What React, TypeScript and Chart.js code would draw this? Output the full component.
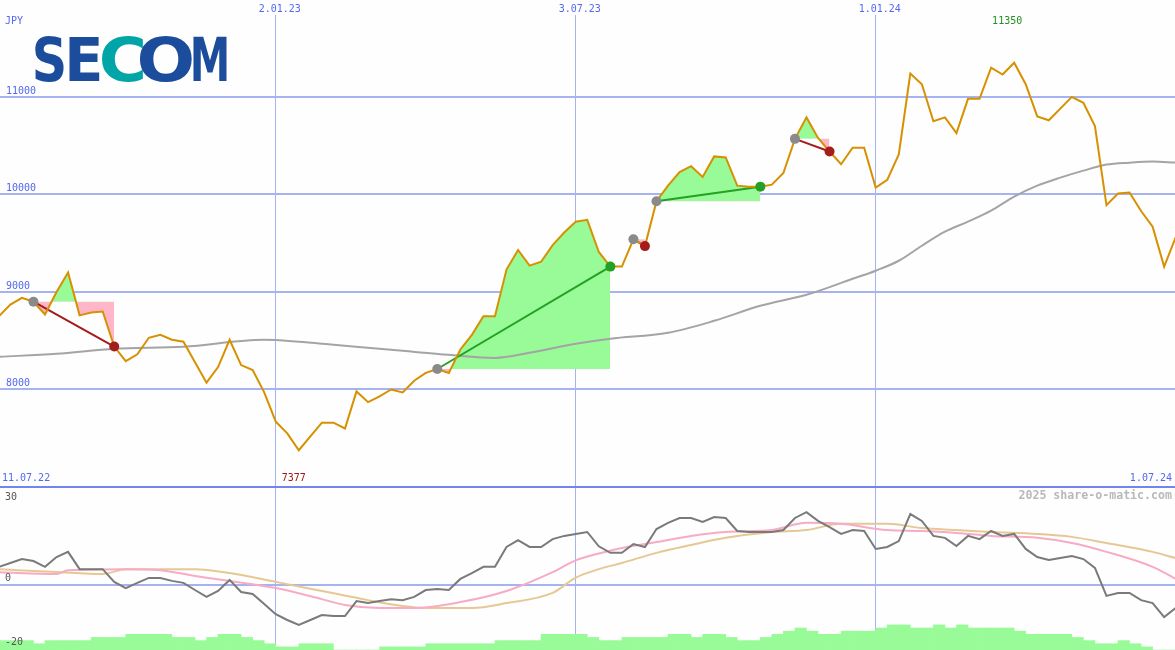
import React, { useEffect, useRef } from 'react';
import { Chart, registerables } from 'chart.js';

Chart.register(...registerables);

// ---------- data ----------
const currencyLabel = 'JPY';
const gridWeeks = [24, 50, 76];
const gridDateLabels = ['2.01.23', '3.07.23', '1.01.24'];
const rangeLabels = ['11.07.22', '1.07.24'];
const priceTicks = [8000, 9000, 10000, 11000];
const oscTicks = [30, 0, -20];
const brandLetters = ['S', 'E', 'C', 'O', 'M'];
const watermark = '2025 share-o-matic.com';

// weekly close, week 0 .. 102
const priceClose = [
  8750, 8870, 8940, 8900, 8770, 9000, 9200, 8760, 8790, 8800,
  8440, 8290, 8360, 8530, 8560, 8510, 8490, 8280, 8070, 8230,
  8510, 8250, 8200, 7970, 7670, 7550, 7377, 7520, 7660, 7660,
  7600, 7980, 7870, 7930, 8000, 7970, 8090, 8170, 8210, 8170,
  8410, 8560, 8750, 8750, 9230, 9430, 9270, 9310, 9480, 9610,
  9720, 9740, 9410, 9260, 9260, 9540, 9470, 9930, 10090, 10230,
  10290, 10180, 10390, 10380, 10090, 10080, 10080, 10100, 10220, 10570,
  10790, 10580, 10440, 10310, 10480, 10480, 10070, 10150, 10410, 11240,
  11130, 10750, 10790, 10630, 10980, 10980, 11300, 11230, 11350, 11130,
  10800, 10760, 10880, 11000, 10940, 10700, 9890, 10010, 10020, 9830,
  9670, 9260, 9560,
];

// moving average (read at these weeks)
const smaWeeks = [0, 5, 10, 16, 23, 26, 29, 35, 39, 43, 46, 50, 53, 58, 62, 66, 70, 74, 76, 78, 80, 82, 84, 86, 88, 90, 92, 94, 96, 98, 100, 102];
const smaValues = [8335, 8366, 8417, 8437, 8509, 8489, 8458, 8396, 8355, 8324, 8376, 8468, 8520, 8581, 8704, 8858, 8971, 9135, 9218, 9320, 9474, 9618, 9721, 9834, 9977, 10090, 10172, 10244, 10306, 10326, 10337, 10326];

// trades (entry / exit week)
const tradeEntryWeek = [3, 38, 55, 57, 69];
const tradeExitWeek = [10, 53, 56, 66, 72];

// lower panel oscillator, week 0 .. 102
const oscValues = [
  5.5, 6.7, 7.9, 7.3, 5.5, 8.5, 10.1, 4.8, 4.8, 4.8,
  0.9, -1.0, 0.6, 2.1, 2.1, 1.2, 0.6, -1.6, -3.7, -1.9,
  1.5, -2.2, -2.8, -5.9, -9.0, -10.8, -12.3, -10.8, -9.3, -9.6,
  -9.6, -5.0, -5.6, -5.0, -4.4, -4.7, -3.7, -1.6, -1.3, -1.6,
  1.8, 3.6, 5.5, 5.5, 11.6, 13.7, 11.6, 11.6, 14.0, 15.0,
  15.6, 16.2, 11.8, 9.8, 9.8, 12.5, 11.6, 17.1, 19.0, 20.5,
  20.5, 19.3, 20.8, 20.5, 16.5, 16.2, 16.2, 16.2, 16.8, 20.5,
  22.3, 19.6, 17.7, 15.6, 16.8, 16.5, 11.0, 11.6, 13.4, 21.7,
  19.6, 15.0, 14.4, 11.9, 15.0, 14.0, 16.5, 15.0, 15.6, 11.0,
  8.5, 7.6, 8.2, 8.8, 7.9, 5.2, -3.4, -2.5, -2.5, -4.7,
  -5.6, -9.9, -7.1,
];

const pinkWeeks = [0, 5, 6, 11, 14, 17, 20, 24, 28, 30, 33, 36, 40, 44, 48, 50, 52, 54, 57, 60, 63, 67, 70, 73, 77, 80, 83, 86, 90, 93, 96, 100, 102];
const pinkValues = [3.9, 3.3, 4.5, 4.8, 4.5, 2.7, 1.2, -1.0, -4.4, -6.2, -7.1, -7.1, -5.3, -1.9, 3.9, 7.5, 9.6, 11.3, 13.1, 15.0, 16.2, 16.8, 19.0, 18.7, 16.8, 16.5, 15.9, 15.0, 14.4, 12.8, 10.1, 5.5, 1.8];

const tanWeeks = [0, 5, 9, 11, 17, 20, 24, 28, 32, 35, 37, 41, 44, 48, 50, 52, 54, 57, 60, 63, 67, 70, 73, 77, 80, 83, 86, 90, 93, 96, 100, 102];
const tanValues = [4.8, 3.9, 3.3, 4.8, 4.8, 3.6, 0.9, -1.9, -4.7, -6.5, -7.1, -7.1, -5.6, -2.5, 2.2, 4.8, 6.7, 9.8, 12.2, 14.4, 16.2, 16.8, 18.7, 18.7, 17.4, 16.8, 16.2, 15.6, 14.7, 12.8, 10.1, 8.2];

// weekly volume level bars (week j covers j..j+1)
const volLevel = [
  3, 3, 3, 2, 3, 3, 3, 3, 4, 4,
  4, 5, 5, 5, 5, 4, 4, 3, 4, 5,
  5, 4, 3, 2, 1, 1, 2, 2, 2, 0,
  0, 0, 0, 1, 1, 1, 1, 2, 2, 2,
  2, 2, 2, 3, 3, 3, 3, 5, 5, 5,
  5, 4, 3, 3, 4, 4, 4, 4, 5, 5,
  4, 5, 5, 4, 3, 3, 4, 5, 6, 7,
  6, 5, 5, 6, 6, 6, 7, 8, 8, 7,
  7, 8, 7, 8, 7, 7, 7, 7, 6, 5,
  5, 5, 5, 4, 3, 2, 2, 3, 2, 1,
  0, 0,
];

// ---------- styles ----------
const W = 1175;
const TOP_H = 487;
const BOT_H = 163;
const BG = '#fdfefd';
const GRID = '#a5b3f2';
const SEP = '#7384ea';
const LABEL_BLUE = '#5468ee';
const PRICE_COLOR = '#d79000';
const SMA_COLOR = '#a4a4a4';
const GREEN_FILL = '#98fb98';
const PINK_FILL = '#ffb6c8';
const WIN_LINE = '#24a024';
const LOSS_LINE = '#a51c1c';
const ENTRY_DOT = '#8a8a8a';
const MONO = '"DejaVu Sans Mono", monospace';

const xMin = 0.1;
const xMax = 101.94;

function xScale(position: 'top' | 'bottom', height: number) {
  return {
    type: 'linear',
    position,
    min: xMin,
    max: xMax,
    offset: false,
    afterBuildTicks: (s: any) => {
      s.ticks = gridWeeks.map((v) => ({ value: v }));
    },
    afterFit: (s: any) => {
      s.height = height;
    },
    ticks: { display: false },
    grid: { color: GRID, lineWidth: 1, drawTicks: false, offset: false },
    border: { display: false },
  };
}

function yScale(min: number, max: number, ticks: number[]) {
  return {
    type: 'linear',
    position: 'left',
    min,
    max,
    afterBuildTicks: (s: any) => {
      s.ticks = ticks.map((v) => ({ value: v }));
    },
    afterFit: (s: any) => {
      s.width = 0;
    },
    ticks: { display: false },
    grid: { color: GRID, lineWidth: 2, drawTicks: false },
    border: { display: false },
  };
}

const topTextPlugin = {
  id: 'topText',
  afterDraw(chart: any) {
    const { ctx, scales } = chart;
    const x = scales.x;
    const y = scales.y;
    ctx.save();
    // separator
    ctx.fillStyle = SEP;
    ctx.fillRect(0, TOP_H - 1, W, 1);

    ctx.font = `10px ${MONO}`;
    ctx.textBaseline = 'middle';
    ctx.fillStyle = LABEL_BLUE;
    ctx.textAlign = 'left';
    ctx.fillText(currencyLabel, 5, 21);
    priceTicks.forEach((v) => {
      ctx.fillText(String(v), 6, y.getPixelForValue(v) - 6);
    });
    ctx.textAlign = 'center';
    gridWeeks.forEach((w, i) => {
      ctx.fillText(gridDateLabels[i], x.getPixelForValue(w) + 4, 9);
    });
    ctx.textAlign = 'left';
    ctx.fillText(rangeLabels[0], 2, 478);
    ctx.textAlign = 'right';
    ctx.fillText(rangeLabels[1], W - 3, 478);

    // min / max labels
    let minI = 0;
    let maxI = 0;
    priceClose.forEach((v, i) => {
      if (v < priceClose[minI]) minI = i;
      if (v > priceClose[maxI]) maxI = i;
    });
    ctx.textAlign = 'center';
    ctx.fillStyle = '#a01818';
    ctx.fillText(String(priceClose[minI]), x.getPixelForValue(minI) - 5, 478);
    ctx.fillStyle = '#229022';
    ctx.fillText(String(priceClose[maxI]), x.getPixelForValue(maxI) - 7, 21);

    // brand logo
    const boxes = [
      [35, 29],
      [69, 31],
      [102, 41],
      [140, 52],
      [193, 34],
    ];
    ctx.font = `bold 61px "DejaVu Sans", sans-serif`;
    ctx.textAlign = 'left';
    ctx.textBaseline = 'alphabetic';
    brandLetters.forEach((ch, i) => {
      const m = ctx.measureText(ch);
      const left = m.actualBoundingBoxLeft || 0;
      const gw = (m.actualBoundingBoxRight || m.width) + left;
      const sx = boxes[i][1] / gw;
      ctx.save();
      ctx.translate(boxes[i][0], 0);
      ctx.scale(sx, 1);
      ctx.fillStyle = ch === 'C' ? '#00a5a8' : '#1c4c9c';
      ctx.fillText(ch, left, 81);
      ctx.restore();
    });
    ctx.restore();
  },
};

const bottomTextPlugin = {
  id: 'bottomText',
  afterDraw(chart: any) {
    const { ctx, scales, chartArea } = chart;
    const y = scales.y;
    ctx.save();
    ctx.fillStyle = SEP;
    ctx.fillRect(0, 0, W, 1);
    ctx.font = `10px ${MONO}`;
    ctx.textBaseline = 'middle';
    ctx.textAlign = 'left';
    ctx.fillStyle = '#555555';
    oscTicks.forEach((v) => {
      let py = y.getPixelForValue(v) - 6;
      py = Math.max(chartArea.top + 10, Math.min(chartArea.bottom - 8, py));
      ctx.fillText(String(v), 5, py);
    });
    ctx.font = `bold 11.6px ${MONO}`;
    ctx.textAlign = 'right';
    ctx.fillStyle = '#b9b9b9';
    ctx.fillText(watermark, W - 3, 9);
    ctx.restore();
  },
};

const baseOptions = {
  animation: false,
  responsive: false,
  devicePixelRatio: 1,
  events: [],
  layout: { padding: 0, autoPadding: false },
  plugins: { legend: { display: false }, tooltip: { enabled: false } },
};

function buildTop(): any {
  const priceData = priceClose.map((v, k) => ({ x: k, y: v }));
  const datasets: any[] = [];
  datasets.push({
    label: 'price',
    data: priceData,
    borderColor: PRICE_COLOR,
    borderWidth: 2,
    pointRadius: 0,
    tension: 0,
    fill: false,
    order: 1,
  });
  datasets.push({
    label: 'sma',
    data: smaWeeks.map((w, i) => ({ x: w, y: smaValues[i] })),
    borderColor: SMA_COLOR,
    borderWidth: 2,
    pointRadius: 0,
    cubicInterpolationMode: 'monotone',
    fill: false,
    order: 6,
  });
  const markerPts: any[] = [];
  const markerColors: string[] = [];
  tradeEntryWeek.forEach((e, i) => {
    const xw = tradeExitWeek[i];
    const lvl = priceClose[e];
    const win = priceClose[xw] > lvl;
    const levelIndex = datasets.length;
    datasets.push({
      label: 'level' + i,
      data: [
        { x: e, y: lvl },
        { x: xw, y: lvl },
      ],
      borderColor: 'rgba(0,0,0,0)',
      borderWidth: 0,
      pointRadius: 0,
      fill: false,
      order: 20,
    });
    datasets.push({
      label: 'area' + i,
      data: priceData.slice(e, xw + 1),
      borderColor: 'rgba(0,0,0,0)',
      borderWidth: 0,
      pointRadius: 0,
      fill: { target: levelIndex, above: GREEN_FILL, below: PINK_FILL },
      order: 19,
    });
    datasets.push({
      label: 'trade' + i,
      data: [
        { x: e, y: lvl },
        { x: xw, y: priceClose[xw] },
      ],
      borderColor: win ? WIN_LINE : LOSS_LINE,
      borderWidth: 2,
      pointRadius: 0,
      fill: false,
      order: 3,
    });
    markerPts.push({ x: e, y: lvl });
    markerColors.push(ENTRY_DOT);
    markerPts.push({ x: xw, y: priceClose[xw] });
    markerColors.push(win ? WIN_LINE : LOSS_LINE);
  });
  datasets.push({
    label: 'markers',
    data: markerPts,
    showLine: false,
    pointRadius: 5,
    pointHoverRadius: 5,
    pointBorderWidth: 0,
    pointBackgroundColor: markerColors,
    pointBorderColor: markerColors,
    fill: false,
    order: 0,
  });

  return {
    type: 'line',
    data: { datasets },
    options: {
      ...baseOptions,
      scales: {
        x: xScale('top', 15),
        y: yScale(7000, 11840, priceTicks),
      },
    },
    plugins: [topTextPlugin],
  };
}

function buildBottom(): any {
  return {
    type: 'line',
    data: {
      datasets: [
        {
          label: 'osc',
          data: oscValues.map((v, k) => ({ x: k, y: v })),
          borderColor: '#7a7a7a',
          borderWidth: 2,
          pointRadius: 0,
          tension: 0,
          fill: false,
          order: 0,
        },
        {
          label: 'pink',
          data: pinkWeeks.map((w, i) => ({ x: w, y: pinkValues[i] })),
          borderColor: '#f7abc5',
          borderWidth: 2,
          pointRadius: 0,
          cubicInterpolationMode: 'monotone',
          fill: false,
          order: 1,
        },
        {
          label: 'tan',
          data: tanWeeks.map((w, i) => ({ x: w, y: tanValues[i] })),
          borderColor: '#e6c894',
          borderWidth: 2,
          pointRadius: 0,
          cubicInterpolationMode: 'monotone',
          fill: false,
          order: 2,
        },
        {
          type: 'bar',
          label: 'vol',
          data: volLevel.map((v, j) => ({ x: j + 0.5, y: v })),
          backgroundColor: GREEN_FILL,
          borderWidth: 0,
          barPercentage: 1,
          categoryPercentage: 1,
          grouped: false,
          yAxisID: 'yv',
          order: 10,
        },
      ],
    },
    options: {
      ...baseOptions,
      scales: {
        x: xScale('bottom', 0),
        y: yScale(-20, 30, [0]),
        yv: {
          type: 'linear',
          display: false,
          min: 0,
          max: 52,
        },
      },
    },
    plugins: [bottomTextPlugin],
  };
}

export default function App() {
  const topRef = useRef<HTMLCanvasElement>(null);
  const botRef = useRef<HTMLCanvasElement>(null);

  useEffect(() => {
    const top = new Chart(topRef.current as HTMLCanvasElement, buildTop());
    const bot = new Chart(botRef.current as HTMLCanvasElement, buildBottom());
    return () => {
      top.destroy();
      bot.destroy();
    };
  }, []);

  return (
    <div style={{ position: 'absolute', left: 0, top: 0, width: W, height: TOP_H + BOT_H, background: BG, overflow: 'hidden' }}>
      <canvas ref={topRef} width={W} height={TOP_H} style={{ display: 'block', width: W, height: TOP_H }} />
      <canvas ref={botRef} width={W} height={BOT_H} style={{ display: 'block', width: W, height: BOT_H }} />
    </div>
  );
}
